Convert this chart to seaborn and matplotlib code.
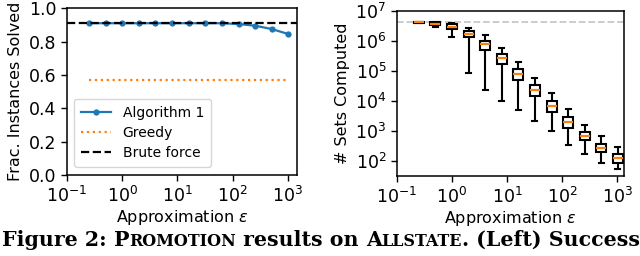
import numpy as np
import pandas as pd
import matplotlib
matplotlib.use("Agg")
import matplotlib.pyplot as plt
import seaborn as sns

# Datos
eps = [0.25, 0.5, 1, 2, 4, 8, 16, 32, 64, 128, 256, 512, 1024]
alg1 = [0.91, 0.91, 0.91, 0.91, 0.91, 0.91, 0.91, 0.91, 0.91, 0.905, 0.895, 0.875, 0.845]
greedy = 0.57
brute_force = 0.913

box_lo = [3.9e6, 3.0e6, 1.3e6, 8.7e4, 2.3e4, 1.0e4, 5.0e3, 2.2e3, 9.8e2, 3.5e2, 166, 87, 55]
box_q1 = [4.0e6, 3.4e6, 2.45e6, 1.3e6, 5.0e5, 1.65e5, 5.0e4, 1.5e4, 4.3e3, 1.3e3, 500, 200, 87]
box_med = [4.2e6, 3.7e6, 3.0e6, 1.7e6, 7.9e5, 2.6e5, 7.9e4, 2.4e4, 6.8e3, 2.0e3, 680, 277, 124]
box_q3 = [4.3e6, 4.2e6, 3.7e6, 2.1e6, 1.0e6, 3.6e5, 1.15e5, 3.3e4, 9.8e3, 2.9e3, 930, 370, 170]
box_hi = [4.35e6, 4.4e6, 4.0e6, 2.7e6, 1.55e6, 6.0e5, 2.0e5, 6.0e4, 1.8e4, 5.4e3, 1550, 660, 290]
total_sets = 4.2e6

df_alg = pd.DataFrame({"eps": eps, "frac": alg1})

filas = []
for e, lo, q1, med, q3, hi in zip(eps, box_lo, box_q1, box_med, box_q3, box_hi):
    for v in (lo, q1, med, q3, hi):
        filas.append({"eps": e, "sets": v})
df_box = pd.DataFrame(filas)

plt.rcParams["font.family"] = ["DejaVu Sans"]
plt.rcParams["mathtext.fontset"] = "dejavusans"

fig = plt.figure(figsize=(6.4, 2.56), dpi=100)
ax1 = fig.add_axes([0.1047, 0.316, 0.359, 0.652])
ax2 = fig.add_axes([0.620, 0.3125, 0.355, 0.645])

# Panel izquierdo
sns.lineplot(data=df_alg, x="eps", y="frac", ax=ax1, color="C0", marker="o",
             markersize=4.5, markeredgewidth=0, linewidth=1.6, label="Algorithm 1")
ax1.plot([eps[0], eps[-1]], [greedy, greedy], color="C1", linestyle=":", linewidth=1.6, label="Greedy")
ax1.axhline(brute_force, color="black", linestyle="--", linewidth=1.6, label="Brute force")
ax1.set_xscale("log")
ax1.set_xlim(0.1, 1450)
ax1.set_ylim(0, 1.0)
ax1.set_yticks([0.0, 0.2, 0.4, 0.6, 0.8, 1.0])
ax1.set_xticks([0.1, 1, 10, 100, 1000])
ax1.minorticks_off()
ax1.set_xlabel(r"Approximation $\varepsilon$", labelpad=1.5)
ax1.set_ylabel("Frac. Instances Solved")
ax1.legend(loc="lower left", bbox_to_anchor=(0.03, 0.048), borderaxespad=0, fontsize=10,
           frameon=True, handlelength=2.2, borderpad=0.5, labelspacing=0.45)

# Panel derecho
ax2.axhline(total_sets, color="#c8c8c8", linestyle="--", linewidth=1.3, zorder=0)
sns.boxplot(data=df_box, x="eps", y="sets", ax=ax2, native_scale=True, log_scale=(True, True),
            orient="x", whis=(0, 100), width=0.6, color="white", linecolor="black",
            linewidth=1.5, fliersize=0,
            medianprops=dict(color="C1", linewidth=1.6))
ax2.set_xlim(0.1, 1320)
ax2.set_ylim(10 ** 1.5, 1e7)
ax2.set_yticks([1e2, 1e3, 1e4, 1e5, 1e6, 1e7])
ax2.set_xticks([0.1, 1, 10, 100, 1000])
ax2.minorticks_off()
ax2.set_xlabel(r"Approximation $\varepsilon$", labelpad=1.5)
ax2.set_ylabel("# Sets Computed")

for ax in (ax1, ax2):
    ax.tick_params(labelsize=12.5, length=4, width=1)
    ax.xaxis.label.set_size(11.5)
    ax.yaxis.label.set_size(11.5)
    for s in ax.spines.values():
        s.set_linewidth(1.1)

# Pie de figura con versalitas simuladas
piezas = [("Figure 2: ", 1.0), ("P", 1.0), ("ROMOTION", 0.78), (" results on ", 1.0),
          ("A", 1.0), ("LLSTATE", 0.78), (". (Left) Success", 1.0)]
renderer = fig.canvas.get_renderer()
base = 13.0
ancho_total = 0
for texto, f in piezas:
    t = fig.text(0, 0, texto, fontsize=base * f, fontweight="bold", family="DejaVu Serif")
    ancho_total += t.get_window_extent(renderer=renderer).width
    t.remove()
base = base * 636 / ancho_total
x = 2 / 640
for texto, f in piezas:
    t = fig.text(x, 1 - 246 / 256, texto, fontsize=base * f, fontweight="bold",
                 family="DejaVu Serif", va="baseline", ha="left")
    x += t.get_window_extent(renderer=renderer).width / fig.bbox.width

fig.savefig("out.png", dpi=100)
